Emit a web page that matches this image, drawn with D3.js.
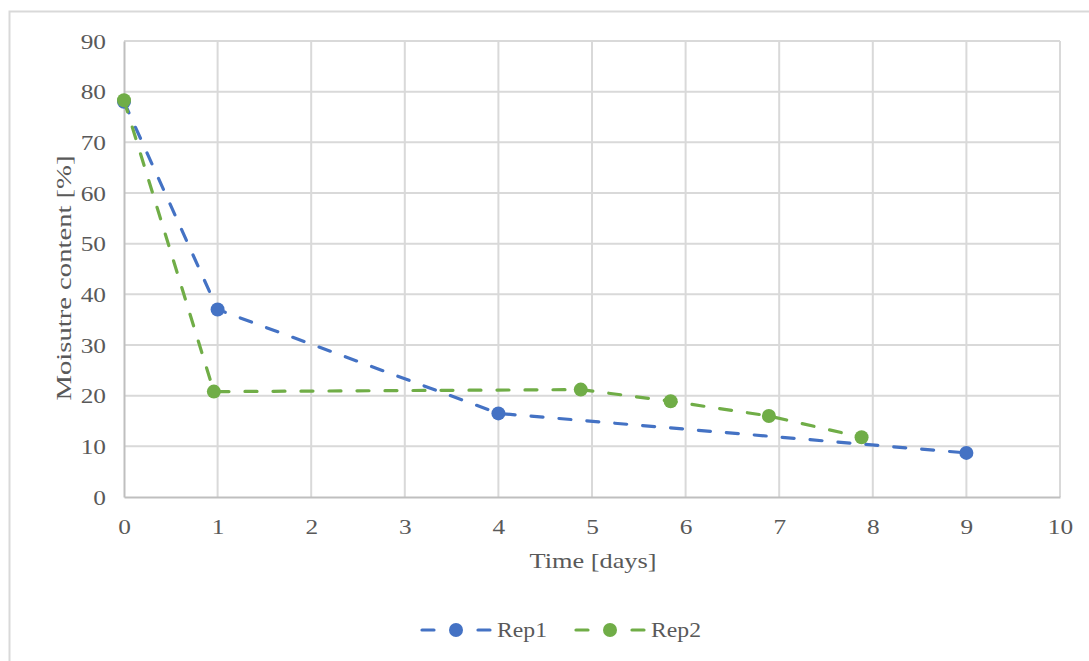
<!DOCTYPE html>
<html>
<head>
<meta charset="utf-8">
<script src="https://cdn.jsdelivr.net/npm/d3@7"></script>
<style>
  body { margin: 0; background: #fff; }
  text { font-family: "Liberation Serif", "Times New Roman", serif; fill: #595959; }
</style>
</head>
<body>
<div id="container"></div>
<script>
/* DATA */
const seriesNames = ["Rep1", "Rep2"]
const rep1X = [0, 1, 4, 9]
const rep1Y = [78.0, 37.0, 16.5, 8.7]
const rep2X = [0, 0.96, 4.88, 5.84, 6.89, 7.88]
const rep2Y = [78.3, 20.8, 21.2, 18.9, 16.0, 11.8]
const xTicks = [0, 1, 2, 3, 4, 5, 6, 7, 8, 9, 10]
const yTicks = [0, 10, 20, 30, 40, 50, 60, 70, 80, 90]
const colors = ["#4472c4", "#70ad47"]

/* CONSTANTS */
const width = 1089,
  height = 661,
  margin = { top: 41, bottom: 164, left: 124, right: 29 },
  stretch = 1.15; // glyphs in the reference are a bit wider than Liberation Serif

const series = [
  { name: seriesNames[0], color: colors[0], values: rep1X.map((x, i) => ({ x, y: rep1Y[i] })) },
  { name: seriesNames[1], color: colors[1], values: rep2X.map((x, i) => ({ x, y: rep2Y[i] })) }
]

/* SCALES */
const xScale = d3.scaleLinear()
  .domain([0, 10])
  .range([margin.left, width - margin.right])

const yScale = d3.scaleLinear()
  .domain([0, 90])
  .range([height - margin.bottom, margin.top])

/* SVG */
const svg = d3.select("#container")
  .append("svg")
  .attr("width", width)
  .attr("height", height)

// chart frame
svg.append("rect")
  .attr("x", 9.5).attr("y", 11.5)
  .attr("width", 1200).attr("height", 800)
  .attr("fill", "none")
  .attr("stroke", "#d9d9d9")
  .attr("stroke-width", 2)

// gridlines
const grid = svg.append("g")
grid.selectAll(".hgrid")
  .data(yTicks.filter(d => d > 0))
  .join("line")
  .attr("x1", margin.left).attr("x2", width - margin.right)
  .attr("y1", d => yScale(d)).attr("y2", d => yScale(d))
  .attr("stroke", "#d9d9d9").attr("stroke-width", 2)
grid.selectAll(".vgrid")
  .data(xTicks.filter(d => d > 0))
  .join("line")
  .attr("x1", d => xScale(d)).attr("x2", d => xScale(d))
  .attr("y1", yScale(0)).attr("y2", yScale(90))
  .attr("stroke", "#d9d9d9").attr("stroke-width", 2)

// axes
const xAxis = d3.axisBottom(xScale).tickValues(xTicks).tickSize(0).tickPadding(21)
svg.append("g")
  .attr("transform", `translate(0,${yScale(0)})`)
  .call(xAxis)
  .call(g => g.select(".domain").attr("stroke", "#bfbfbf").attr("stroke-width", 2))
  .selectAll("text")
  .style("font-size", "22px")
  .attr("fill", "#595959")
  .attr("transform", `scale(${stretch},1)`)

const yAxis = d3.axisLeft(yScale).tickValues(yTicks).tickSize(0)
svg.append("g")
  .attr("transform", `translate(${margin.left},0)`)
  .call(yAxis)
  .call(g => g.select(".domain").attr("stroke", "#bfbfbf").attr("stroke-width", 2))
  .selectAll("text")
  .style("font-size", "22px")
  .attr("fill", "#595959")
  .attr("x", -18 / stretch)
  .attr("transform", `scale(${stretch},1)`)

// axis titles
svg.append("text")
  .attr("x", xScale(5) + 1)
  .attr("y", 568)
  .attr("text-anchor", "middle")
  .attr("textLength", 127)
  .attr("lengthAdjust", "spacingAndGlyphs")
  .style("font-size", "22px")
  .text("Time [days]")

svg.append("text")
  .attr("transform", "translate(71,278) rotate(-90)")
  .attr("text-anchor", "middle")
  .attr("textLength", 245)
  .attr("lengthAdjust", "spacingAndGlyphs")
  .style("font-size", "22px")
  .text("Moisutre content [%]")

// lines and markers
const line = d3.line().x(d => xScale(d.x)).y(d => yScale(d.y))

series.forEach(s => {
  svg.append("path")
    .datum(s.values)
    .attr("d", line)
    .attr("fill", "none")
    .attr("stroke", s.color)
    .attr("stroke-width", 3.2)
    .attr("stroke-linecap", "round")
    .attr("stroke-dasharray", "12,16")
  svg.selectAll(".pt-" + s.name)
    .data(s.values)
    .join("circle")
    .attr("cx", d => xScale(d.x))
    .attr("cy", d => yScale(d.y))
    .attr("r", 7)
    .attr("fill", s.color)
})

// legend
const legend = svg.append("g").attr("transform", "translate(421,630)")
series.forEach((s, i) => {
  const g = legend.append("g").attr("transform", `translate(${i * 154},0)`)
  g.append("line").attr("x1", 1).attr("x2", 13).attr("y1", 0).attr("y2", 0)
    .attr("stroke", s.color).attr("stroke-width", 3.2).attr("stroke-linecap", "round")
  g.append("line").attr("x1", 57).attr("x2", 69).attr("y1", 0).attr("y2", 0)
    .attr("stroke", s.color).attr("stroke-width", 3.2).attr("stroke-linecap", "round")
  g.append("circle").attr("cx", 35).attr("cy", 0).attr("r", 7).attr("fill", s.color)
  g.append("text").attr("x", 76).attr("y", 7)
    .attr("textLength", 50)
    .attr("lengthAdjust", "spacingAndGlyphs")
    .style("font-size", "22px")
    .text(s.name)
})
</script>
</body>
</html>
